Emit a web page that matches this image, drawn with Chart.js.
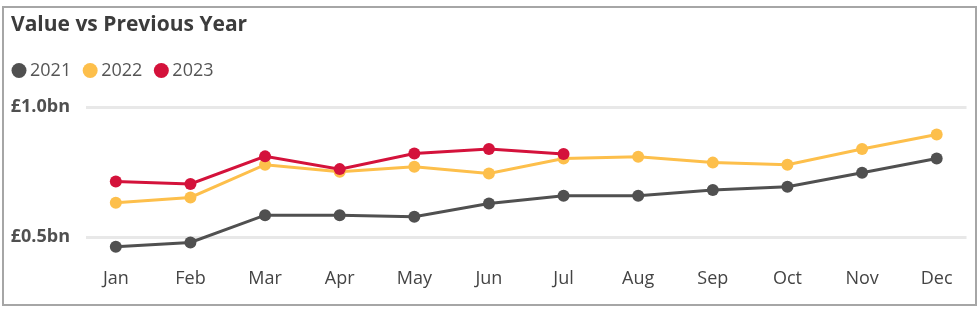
<!DOCTYPE html>
<html lang="en">
<head>
    <meta charset="UTF-8">
    <title>Value vs Previous Year</title>
    <script src="https://cdn.jsdelivr.net/npm/chart.js"></script>
    <style>
        body { margin: 0; background: #fff; }
        #frame { position: absolute; left: 2px; top: 6px; width: 971px; height: 296px; border: 2px solid #a6a6a6; }
        #myChart { position: absolute; left: 0; top: 0; }
    </style>
</head>
<body>
    <div id="frame"></div>
    <canvas id="myChart" width="980" height="314"></canvas>
    <script>
        const months = ['Jan', 'Feb', 'Mar', 'Apr', 'May', 'Jun', 'Jul', 'Aug', 'Sep', 'Oct', 'Nov', 'Dec'];
        // values in £bn
        const values2021 = [0.462, 0.478, 0.583, 0.583, 0.577, 0.628, 0.658, 0.658, 0.680, 0.692, 0.746, 0.801];
        const values2022 = [0.631, 0.651, 0.777, 0.750, 0.769, 0.743, 0.801, 0.808, 0.785, 0.777, 0.837, 0.893];
        const values2023 = [0.712, 0.703, 0.809, 0.760, 0.820, 0.837, 0.818];
        const yTicks = [0.5, 1.0];

        // horizontal grid lines, a bit shorter than the plot area
        // + nudge the title in from the left edge
        const layoutPlugin = {
            id: 'pbiLayout',
            afterLayout(chart) {
                if (chart.titleBlock) {
                    chart.titleBlock.left += 11;
                    chart.titleBlock.right += 11;
                }
            },
            beforeDatasetsDraw(chart) {
                const { ctx, chartArea, scales } = chart;
                ctx.save();
                ctx.strokeStyle = '#e8e8e8';
                ctx.lineWidth = 3;
                yTicks.forEach(v => {
                    const y = Math.round(scales.y.getPixelForValue(v)) + 0.5;
                    ctx.beginPath();
                    ctx.moveTo(chartArea.left + 7.5, y);
                    ctx.lineTo(chartArea.right - 7.5, y);
                    ctx.stroke();
                });
                ctx.restore();
            }
        };

        function series(label, data, color) {
            return {
                label: label,
                data: data,
                borderColor: color,
                backgroundColor: color,
                borderWidth: 3,
                pointRadius: 6,
                pointHoverRadius: 6,
                pointBorderWidth: 0,
                tension: 0
            };
        }

        const ctx = document.getElementById('myChart').getContext('2d');
        new Chart(ctx, {
            type: 'line',
            data: {
                labels: months,
                // first dataset is drawn on top, so 2023 goes first
                datasets: [
                    series('2021', values2021, '#505050'),
                    series('2022', values2022, '#fdbf4b'),
                    series('2023', values2023, '#d4123b')
                ].reverse()
            },
            plugins: [layoutPlugin],
            options: {
                responsive: false,
                animation: false,
                layout: { padding: { left: 0, right: 1.5, top: 12.7, bottom: 19.2 } },
                plugins: {
                    title: {
                        display: true,
                        text: 'Value vs Previous Year',
                        align: 'start',
                        color: '#3c3c3c',
                        font: { family: 'Open Sans', size: 21, weight: 'bold' },
                        padding: { top: 0, bottom: 6.6 }
                    },
                    legend: {
                        align: 'start',
                        reverse: true,
                        labels: {
                            usePointStyle: true,
                            pointStyle: 'circle',
                            boxWidth: 4,
                            boxHeight: 10.6,
                            padding: 17,
                            color: '#555555',
                            font: { family: 'Open Sans', size: 18 }
                        }
                    },
                    tooltip: { enabled: false }
                },
                scales: {
                    x: {
                        offset: true,
                        grid: { display: false, drawTicks: false },
                        border: { display: false },
                        ticks: {
                            color: '#444444',
                            padding: 5.2,
                            maxRotation: 0,
                            autoSkip: false,
                            font: { family: 'Open Sans', size: 18 }
                        }
                    },
                    y: {
                        min: 0.4,
                        max: 1.066,
                        afterBuildTicks: axis => { axis.ticks = yTicks.map(v => ({ value: v })); },
                        afterFit: axis => { axis.width = 78.5; },
                        grid: { display: false, drawTicks: false },
                        border: { display: false },
                        ticks: {
                            padding: 8.5,
                            color: '#505050',
                            font: { family: 'Open Sans', size: 18, weight: 'bold' },
                            callback: v => '£' + v.toFixed(1) + 'bn'
                        }
                    }
                }
            }
        });
    </script>
</body>
</html>
